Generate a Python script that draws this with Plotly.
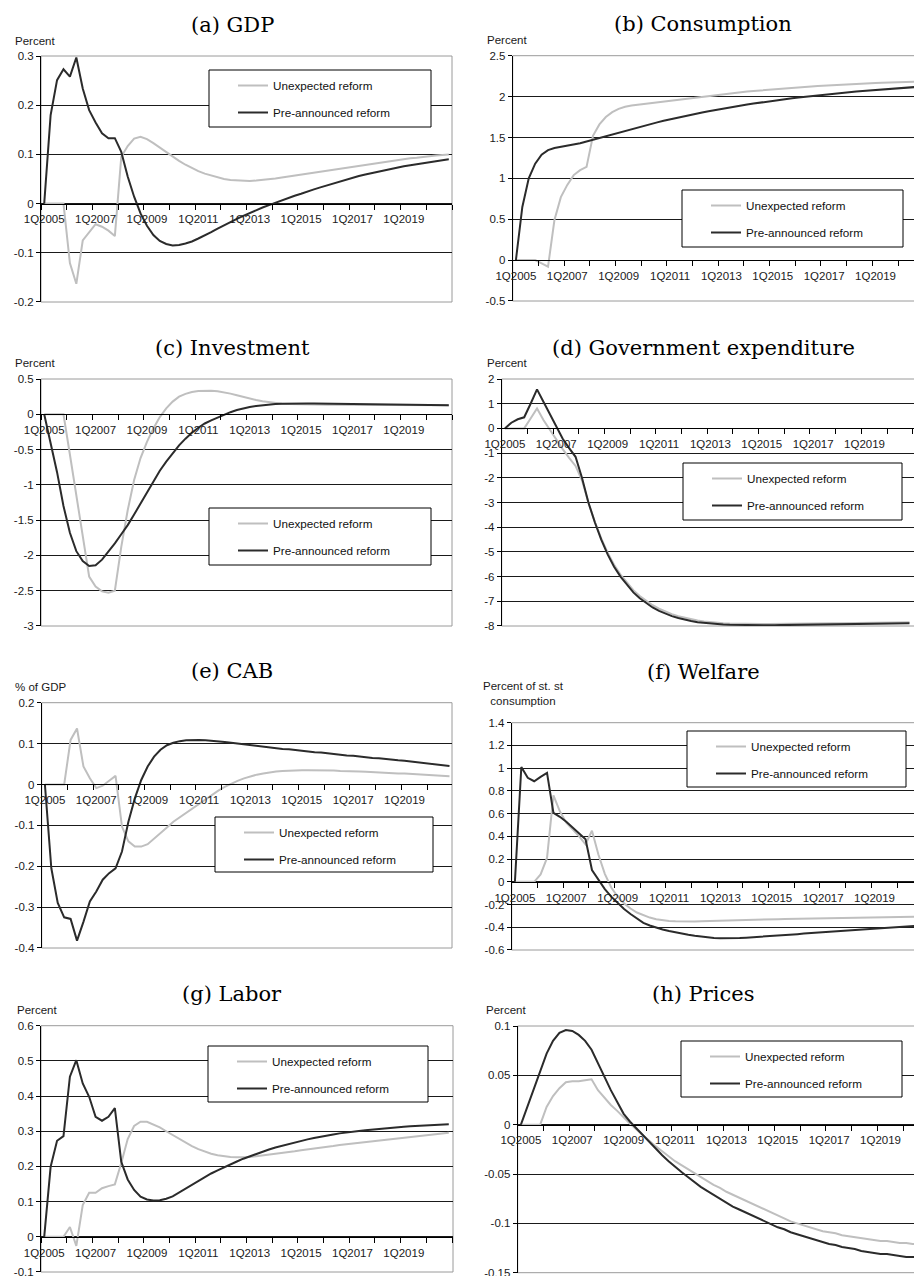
import plotly.graph_objects as go

W, H = 914, 1276

# ---------------- categories & labels ----------------
quarters = [f"{q}Q{y}" for y in range(2005, 2021) for q in range(1, 5)]
x_tick_labels = ["1Q2005", "1Q2007", "1Q2009", "1Q2011", "1Q2013", "1Q2015", "1Q2017", "1Q2019"]
series_names = ["Unexpected reform", "Pre-announced reform"]

# ---------------- data ----------------
gdp_unexpected = [0, 0, 0, 0, -0.121, -0.163, -0.075, -0.059, -0.042, -0.047, -0.055, -0.066, 0.095, 0.117,
                  0.132, 0.136, 0.131, 0.123, 0.114, 0.104, 0.095, 0.087, 0.079, 0.072, 0.066, 0.061, 0.057,
                  0.053, 0.050, 0.048, 0.047, 0.046, 0.046, 0.047, 0.048, 0.049, 0.051, 0.053, 0.055, 0.057,
                  0.059, 0.061, 0.063, 0.065, 0.067, 0.069, 0.071, 0.073, 0.075, 0.077, 0.079, 0.081, 0.083,
                  0.085, 0.087, 0.089, 0.090, 0.092, 0.093, 0.095, 0.096, 0.098, 0.099, 0.100]
gdp_preannounced = [0, 0.18, 0.251, 0.273, 0.258, 0.297, 0.234, 0.19, 0.165, 0.143, 0.133, 0.133, 0.105, 0.055,
                    0.014, -0.02, -0.045, -0.064, -0.076, -0.082, -0.085, -0.084, -0.081, -0.077, -0.071,
                    -0.065, -0.058, -0.051, -0.044, -0.037, -0.031, -0.025, -0.019, -0.013, -0.008, -0.003,
                    0.002, 0.007, 0.011, 0.016, 0.020, 0.025, 0.029, 0.033, 0.037, 0.041, 0.045, 0.049, 0.053,
                    0.056, 0.059, 0.062, 0.065, 0.068, 0.071, 0.073, 0.076, 0.078, 0.080, 0.082, 0.084, 0.086,
                    0.088, 0.090]

cons_unexpected = [0, 0, 0, 0, -0.04, -0.08, 0.49, 0.77, 0.92, 1.04, 1.10, 1.14, 1.52, 1.66, 1.75, 1.81, 1.85,
                   1.875, 1.89, 1.90, 1.91, 1.92, 1.93, 1.94, 1.95, 1.96, 1.97, 1.98, 1.99, 2.0, 2.01, 2.02, 2.03,
                   2.038, 2.046, 2.054, 2.062, 2.069, 2.076, 2.083, 2.09, 2.096, 2.102, 2.108, 2.114, 2.119,
                   2.124, 2.129, 2.134, 2.138, 2.142, 2.146, 2.150, 2.154, 2.158, 2.162, 2.165, 2.168, 2.171,
                   2.174, 2.177, 2.180, 2.183, 2.186]
cons_preannounced = [0, 0.65, 1.0, 1.18, 1.29, 1.345, 1.372, 1.386, 1.398, 1.412, 1.43, 1.45, 1.472, 1.495,
                     1.518, 1.54, 1.562, 1.584, 1.605, 1.627, 1.647, 1.666, 1.685, 1.704, 1.722, 1.739, 1.756,
                     1.773, 1.789, 1.805, 1.82, 1.835, 1.85, 1.864, 1.877, 1.89, 1.903, 1.915, 1.927, 1.938,
                     1.949, 1.959, 1.969, 1.979, 1.988, 1.997, 2.006, 2.015, 2.023, 2.031, 2.039, 2.047, 2.054,
                     2.061, 2.068, 2.075, 2.081, 2.087, 2.093, 2.099, 2.105, 2.111, 2.117, 2.122]

inv_unexpected = [0, 0, 0, 0, -0.57, -1.17, -1.77, -2.30, -2.44, -2.51, -2.53, -2.50, -1.88, -1.36, -0.93,
                  -0.62, -0.39, -0.20, -0.04, 0.085, 0.18, 0.25, 0.29, 0.317, 0.33, 0.335, 0.335, 0.326, 0.312,
                  0.293, 0.27, 0.245, 0.222, 0.203, 0.184, 0.17, 0.16, 0.151, 0.146, 0.143, 0.141, 0.140, 0.139,
                  0.138, 0.137, 0.136, 0.135, 0.135, 0.134, 0.134, 0.133, 0.133, 0.132, 0.132, 0.131, 0.131,
                  0.130, 0.130, 0.130, 0.129, 0.129, 0.129, 0.128, 0.128]
inv_preannounced = [0, -0.40, -0.82, -1.30, -1.68, -1.94, -2.08, -2.15, -2.14, -2.06, -1.95, -1.83, -1.70,
                    -1.57, -1.42, -1.26, -1.10, -0.94, -0.80, -0.67, -0.55, -0.44, -0.345, -0.26, -0.19, -0.13,
                    -0.085, -0.045, -0.005, 0.03, 0.06, 0.085, 0.104, 0.118, 0.13, 0.138, 0.145, 0.149, 0.152,
                    0.153, 0.154, 0.154, 0.153, 0.152, 0.151, 0.150, 0.149, 0.148, 0.146, 0.145, 0.144, 0.143,
                    0.141, 0.140, 0.139, 0.138, 0.137, 0.136, 0.135, 0.134, 0.133, 0.132, 0.131, 0.130]

gov_unexpected = [0, 0, 0, 0, 0.4, 0.81, 0.34, -0.07, -0.47, -0.84, -1.19, -1.52, -2.1, -3.0, -3.78, -4.45,
                  -5.03, -5.52, -5.92, -6.26, -6.55, -6.79, -6.99, -7.16, -7.3, -7.42, -7.52, -7.6, -7.67,
                  -7.73, -7.78, -7.82, -7.85, -7.87, -7.89, -7.9, -7.91, -7.915, -7.92, -7.92, -7.92, -7.92,
                  -7.92, -7.915, -7.91, -7.91, -7.905, -7.9, -7.9, -7.895, -7.89, -7.89, -7.885, -7.88, -7.88,
                  -7.875, -7.87, -7.87, -7.865, -7.86, -7.86, -7.855, -7.85, -7.85]
gov_preannounced = [0, 0.23, 0.37, 0.45, 1.0, 1.58, 1.08, 0.57, 0.06, -0.42, -0.8, -1.15, -2.0, -3.0, -3.8,
                    -4.5, -5.1, -5.6, -6.0, -6.34, -6.64, -6.88, -7.08, -7.25, -7.39, -7.5, -7.6, -7.68, -7.75,
                    -7.8, -7.85, -7.88, -7.91, -7.93, -7.945, -7.955, -7.96, -7.965, -7.97, -7.97, -7.97, -7.97,
                    -7.97, -7.965, -7.96, -7.96, -7.955, -7.95, -7.95, -7.945, -7.94, -7.935, -7.93, -7.925,
                    -7.92, -7.915, -7.91, -7.905, -7.9, -7.9, -7.895, -7.89, -7.89, -7.885]

cab_unexpected = [0, 0, 0, 0, 0.109, 0.137, 0.044, 0.015, -0.009, -0.003, 0.009, 0.021, -0.103, -0.139,
                  -0.152, -0.152, -0.146, -0.133, -0.119, -0.105, -0.091, -0.080, -0.069, -0.058, -0.047,
                  -0.036, -0.025, -0.015, -0.006, 0.002, 0.009, 0.015, 0.020, 0.024, 0.027, 0.030, 0.032,
                  0.033, 0.034, 0.035, 0.035, 0.035, 0.035, 0.035, 0.034, 0.034, 0.033, 0.033, 0.032, 0.032,
                  0.031, 0.030, 0.030, 0.029, 0.028, 0.027, 0.027, 0.026, 0.025, 0.024, 0.023, 0.022, 0.021,
                  0.020]
cab_preannounced = [0, -0.205, -0.29, -0.325, -0.329, -0.382, -0.336, -0.286, -0.262, -0.233, -0.217, -0.205,
                    -0.164, -0.091, -0.034, 0.011, 0.044, 0.068, 0.085, 0.096, 0.102, 0.106, 0.108, 0.109,
                    0.109, 0.108, 0.107, 0.106, 0.104, 0.102, 0.100, 0.098, 0.097, 0.095, 0.093, 0.091, 0.089,
                    0.087, 0.086, 0.084, 0.083, 0.081, 0.079, 0.078, 0.076, 0.075, 0.073, 0.071, 0.070, 0.068,
                    0.067, 0.065, 0.064, 0.062, 0.061, 0.059, 0.058, 0.056, 0.055, 0.053, 0.051, 0.049, 0.047,
                    0.045]

welfare_unexpected = [0, 0, 0, 0, 0.065, 0.21, 0.76, 0.62, 0.52, 0.46, 0.40, 0.33, 0.45, 0.24, 0.07, -0.05,
                      -0.13, -0.19, -0.235, -0.27, -0.295, -0.315, -0.33, -0.34, -0.345, -0.348, -0.35, -0.35,
                      -0.349, -0.347, -0.345, -0.343, -0.341, -0.339, -0.337, -0.335, -0.334, -0.333, -0.332,
                      -0.331, -0.330, -0.329, -0.328, -0.327, -0.326, -0.325, -0.324, -0.323, -0.322, -0.321,
                      -0.320, -0.319, -0.318, -0.317, -0.316, -0.315, -0.314, -0.313, -0.312, -0.311, -0.310,
                      -0.309, -0.308, -0.307]
welfare_preannounced = [0, 1.01, 0.915, 0.885, 0.923, 0.958, 0.607, 0.572, 0.528, 0.475, 0.425, 0.375, 0.104,
                        0.016, -0.064, -0.131, -0.19, -0.24, -0.283, -0.325, -0.362, -0.385, -0.405, -0.42,
                        -0.433, -0.445, -0.456, -0.466, -0.474, -0.482, -0.489, -0.494, -0.497, -0.498, -0.497,
                        -0.495, -0.492, -0.489, -0.485, -0.481, -0.477, -0.473, -0.469, -0.465, -0.461, -0.456,
                        -0.452, -0.447, -0.443, -0.438, -0.434, -0.429, -0.425, -0.421, -0.417, -0.413, -0.409,
                        -0.405, -0.401, -0.398, -0.395, -0.392, -0.389, -0.386]

labor_unexpected = [0, 0, 0, 0, 0.028, -0.026, 0.09, 0.125, 0.125, 0.138, 0.144, 0.149, 0.21, 0.278, 0.315,
                    0.327, 0.327, 0.32, 0.311, 0.30, 0.289, 0.279, 0.268, 0.258, 0.249, 0.242, 0.236, 0.232,
                    0.229, 0.227, 0.226, 0.226, 0.227, 0.229, 0.231, 0.233, 0.236, 0.238, 0.241, 0.243, 0.246,
                    0.248, 0.251, 0.253, 0.256, 0.258, 0.261, 0.263, 0.265, 0.267, 0.269, 0.272, 0.274, 0.276,
                    0.278, 0.28, 0.282, 0.284, 0.286, 0.288, 0.29, 0.292, 0.294, 0.296]
labor_preannounced = [0, 0.199, 0.273, 0.286, 0.455, 0.502, 0.436, 0.398, 0.341, 0.33, 0.341, 0.366, 0.213,
                      0.163, 0.133, 0.114, 0.106, 0.103, 0.104, 0.108, 0.115, 0.126, 0.137, 0.149, 0.16, 0.17,
                      0.18, 0.189, 0.198, 0.206, 0.214, 0.222, 0.229, 0.236, 0.242, 0.248, 0.254, 0.259, 0.264,
                      0.269, 0.273, 0.277, 0.281, 0.285, 0.288, 0.291, 0.294, 0.297, 0.299, 0.301, 0.303, 0.305,
                      0.307, 0.309, 0.310, 0.312, 0.313, 0.314, 0.315, 0.316, 0.317, 0.318, 0.319, 0.320]

prices_unexpected = [0, 0, 0, 0, 0.018, 0.029, 0.037, 0.043, 0.044, 0.044, 0.045, 0.046, 0.035, 0.027, 0.02,
                     0.014, 0.007, 0.001, -0.005, -0.011, -0.017, -0.022, -0.027, -0.032, -0.037, -0.041,
                     -0.045, -0.049, -0.053, -0.057, -0.061, -0.064, -0.068, -0.071, -0.074, -0.077, -0.080,
                     -0.083, -0.086, -0.089, -0.092, -0.095, -0.098, -0.100, -0.102, -0.104, -0.106, -0.108,
                     -0.109, -0.110, -0.112, -0.113, -0.114, -0.115, -0.116, -0.117, -0.118, -0.118, -0.119,
                     -0.120, -0.120, -0.121, -0.121, -0.122]
prices_preannounced = [0, 0.018, 0.035, 0.052, 0.072, 0.085, 0.093, 0.096, 0.095, 0.091, 0.085, 0.076, 0.062,
                       0.048, 0.035, 0.023, 0.011, 0.003, -0.004, -0.011, -0.018, -0.025, -0.031, -0.037,
                       -0.043, -0.048, -0.053, -0.058, -0.063, -0.067, -0.071, -0.075, -0.079, -0.083, -0.086,
                       -0.089, -0.092, -0.095, -0.098, -0.101, -0.104, -0.106, -0.109, -0.111, -0.113, -0.115,
                       -0.117, -0.119, -0.121, -0.122, -0.124, -0.125, -0.126, -0.128, -0.129, -0.130, -0.131,
                       -0.131, -0.132, -0.133, -0.134, -0.134, -0.135, -0.135]

# ---------------- y-axis ticks ----------------
gdp_ticks = [-0.2, -0.1, 0, 0.1, 0.2, 0.3]
gdp_ticktext = ["-0.2", "-0.1", "0", "0.1", "0.2", "0.3"]
cons_ticks = [-0.5, 0, 0.5, 1, 1.5, 2, 2.5]
cons_ticktext = ["-0.5", "0", "0.5", "1", "1.5", "2", "2.5"]
inv_ticks = [-3, -2.5, -2, -1.5, -1, -0.5, 0, 0.5]
inv_ticktext = ["-3", "-2.5", "-2", "-1.5", "-1", "-0.5", "0", "0.5"]
gov_ticks = [-8, -7, -6, -5, -4, -3, -2, -1, 0, 1, 2]
gov_ticktext = ["-8", "-7", "-6", "-5", "-4", "-3", "-2", "-1", "0", "1", "2"]
cab_ticks = [-0.4, -0.3, -0.2, -0.1, 0, 0.1, 0.2]
cab_ticktext = ["-0.4", "-0.3", "-0.2", "-0.1", "0", "0.1", "0.2"]
welfare_ticks = [-0.6, -0.4, -0.2, 0, 0.2, 0.4, 0.6, 0.8, 1, 1.2, 1.4]
welfare_ticktext = ["-0.6", "-0.4", "-0.2", "0", "0.2", "0.4", "0.6", "0.8", "1", "1.2", "1.4"]
labor_ticks = [-0.1, 0, 0.1, 0.2, 0.3, 0.4, 0.5, 0.6]
labor_ticktext = ["-0.1", "0", "0.1", "0.2", "0.3", "0.4", "0.5", "0.6"]
prices_ticks = [-0.15, -0.1, -0.05, 0, 0.05, 0.1]
prices_ticktext = ["-0.15", "-0.1", "-0.05", "0", "0.05", "0.1"]

panels = [
    dict(title="(a) GDP", unit="Percent", data=(gdp_unexpected, gdp_preannounced),
         ticks=gdp_ticks, ticktext=gdp_ticktext),
    dict(title="(b) Consumption", unit="Percent", data=(cons_unexpected, cons_preannounced),
         ticks=cons_ticks, ticktext=cons_ticktext),
    dict(title="(c) Investment", unit="Percent", data=(inv_unexpected, inv_preannounced),
         ticks=inv_ticks, ticktext=inv_ticktext),
    dict(title="(d) Government expenditure", unit="Percent", data=(gov_unexpected, gov_preannounced),
         ticks=gov_ticks, ticktext=gov_ticktext),
    dict(title="(e) CAB", unit="% of GDP", data=(cab_unexpected, cab_preannounced),
         ticks=cab_ticks, ticktext=cab_ticktext),
    dict(title="(f) Welfare", unit="Percent of st. st<br>consumption",
         data=(welfare_unexpected, welfare_preannounced), ticks=welfare_ticks, ticktext=welfare_ticktext),
    dict(title="(g) Labor", unit="Percent", data=(labor_unexpected, labor_preannounced),
         ticks=labor_ticks, ticktext=labor_ticktext),
    dict(title="(h) Prices", unit="Percent", data=(prices_unexpected, prices_preannounced),
         ticks=prices_ticks, ticktext=prices_ticktext),
]

# ---------------- geometry (page pixels) ----------------
geo = [
    dict(px=(41, 452), py=(56, 302), title=(232, 25), unit=(12.7, 41, "left"), box=(209, 70, 431, 127), right=False),
    dict(px=(512.7, 914), py=(55.7, 301), title=(703, 24), unit=(485, 40, "left"), box=(682, 190, 903, 247), right=True),
    dict(px=(41, 452), py=(379, 626), title=(232, 347.5), unit=(13, 363.3, "left"), box=(209, 508, 431, 565), right=False),
    dict(px=(501.7, 914), py=(379, 626), title=(703, 347.5), unit=(485, 363, "left"), box=(683, 463, 902, 520), right=True),
    dict(px=(41.7, 452), py=(702.7, 948), title=(232, 671), unit=(12.7, 687.3, "left"), box=(215, 817, 433, 872), right=False),
    dict(px=(511.7, 914), py=(722.7, 950), title=(703, 672), unit=(523.5, 693, "center"), box=(687, 731, 906, 787), right=True),
    dict(px=(41, 453), py=(1025.7, 1272), title=(232, 994), unit=(15, 1010, "left"), box=(208, 1046, 428, 1102), right=False),
    dict(px=(517.7, 914), py=(1026, 1272.7), title=(703, 994), unit=(484, 1010, "left"), box=(681, 1041, 902, 1097), right=True),
]

COL_UNEXP = "#BFBFBF"
COL_PRE = "#2B2B2B"
FONT_SANS = "Liberation Sans, Arial, sans-serif"
FONT_SERIF = "DejaVu Serif, serif"
band = (452 - 41) / len(quarters)
label_vals = [quarters.index(l) for l in x_tick_labels]
year_ticks = [i - 0.5 for i in range(0, len(quarters) + 1, 4)]

fig = go.Figure()
layout = dict(width=W, height=H, margin=dict(l=0, r=0, t=0, b=0, autoexpand=False),
              paper_bgcolor="white", plot_bgcolor="white", showlegend=True,
              shapes=[], annotations=[], hovermode=False)

for i, (p, g) in enumerate(zip(panels, geo)):
    n = "" if i == 0 else str(i + 1)
    xr, yr, lg = "x" + n, "y" + n, "legend" + n
    x0, x1 = g["px"]
    y0, y1 = g["py"]
    ymin, ymax = p["ticks"][0], p["ticks"][-1]
    eps = (ymax - ymin) * 1e-4
    dom_y = [1 - y1 / H, 1 - y0 / H]
    xmax = -0.5 + (x1 - x0) / band
    zero_pos = dom_y[0] + (0 - ymin) / (ymax - ymin) * (dom_y[1] - dom_y[0])

    layout["xaxis" + n] = dict(
        domain=[x0 / W, min(x1 / W, 1)], range=[-0.5, xmax], anchor="free", position=zero_pos,
        showline=True, linecolor="black", linewidth=1,
        ticks="outside", ticklen=5, tickcolor="rgba(0,0,0,0)",
        tickvals=label_vals, ticktext=x_tick_labels, ticklabeloverflow="allow",
        tickfont=dict(family=FONT_SANS, size=11.5, color="#1a1a1a"),
        minor=dict(tickvals=year_ticks, ticks="outside", ticklen=5, tickcolor="black", tickwidth=1,
                   showgrid=False),
        showgrid=False, zeroline=False, fixedrange=True)
    layout["yaxis" + n] = dict(
        domain=dom_y, range=[ymin - eps, ymax + eps], anchor=xr,
        showline=True, linecolor="black", linewidth=1,
        ticks="outside", ticklen=4, tickcolor="black",
        tickvals=p["ticks"], ticktext=p["ticktext"], ticklabeloverflow="allow",
        tickfont=dict(family=FONT_SANS, size=11.5, color="#1a1a1a"),
        showgrid=True, gridcolor="#1a1a1a", gridwidth=1, zeroline=False, fixedrange=True)

    # plot-area border (grey)
    layout["shapes"].append(dict(type="rect", xref=xr + " domain", yref=yr + " domain",
                                 x0=0, x1=1.05 if g["right"] else 1, y0=0, y1=1,
                                 line=dict(color="#9a9a9a", width=1), layer="below"))
    # legend box
    bl, bt, br, bb = g["box"]
    layout["shapes"].append(dict(type="rect", xref="paper", yref="paper",
                                 x0=bl / W, x1=br / W, y0=1 - bb / H, y1=1 - bt / H,
                                 line=dict(color="black", width=1), fillcolor="white", layer="above"))
    layout[lg] = dict(x=(bl + 24) / W, y=1 - (bt + 1) / H, xanchor="left", yanchor="top",
                      bgcolor="rgba(0,0,0,0)", borderwidth=0, tracegroupgap=8,
                      font=dict(family=FONT_SANS, size=11.7, color="#111111"),
                      itemclick=False, itemdoubleclick=False)

    # titles and unit labels
    tx, ty = g["title"]
    layout["annotations"].append(dict(text=p["title"], x=tx / W, y=1 - ty / H, xref="paper", yref="paper",
                                      xanchor="center", yanchor="middle", showarrow=False,
                                      font=dict(family=FONT_SERIF, size=21, color="black")))
    ux, uy, ua = g["unit"]
    layout["annotations"].append(dict(text=p["unit"], x=ux / W, y=1 - uy / H, xref="paper", yref="paper",
                                      xanchor=ua, yanchor="middle", align="center", showarrow=False,
                                      font=dict(family=FONT_SANS, size=11.5, color="#1a1a1a")))

    for name, vals, col in zip(series_names, p["data"], (COL_UNEXP, COL_PRE)):
        fig.add_trace(go.Scatter(x=list(range(len(vals))), y=vals, mode="lines", name=name,
                                 line=dict(color=col, width=2), xaxis=xr, yaxis=yr,
                                 legend=lg, legendgroup=f"{name}{i}", showlegend=True))

fig.update_layout(**layout)
fig.write_html("out.html")
